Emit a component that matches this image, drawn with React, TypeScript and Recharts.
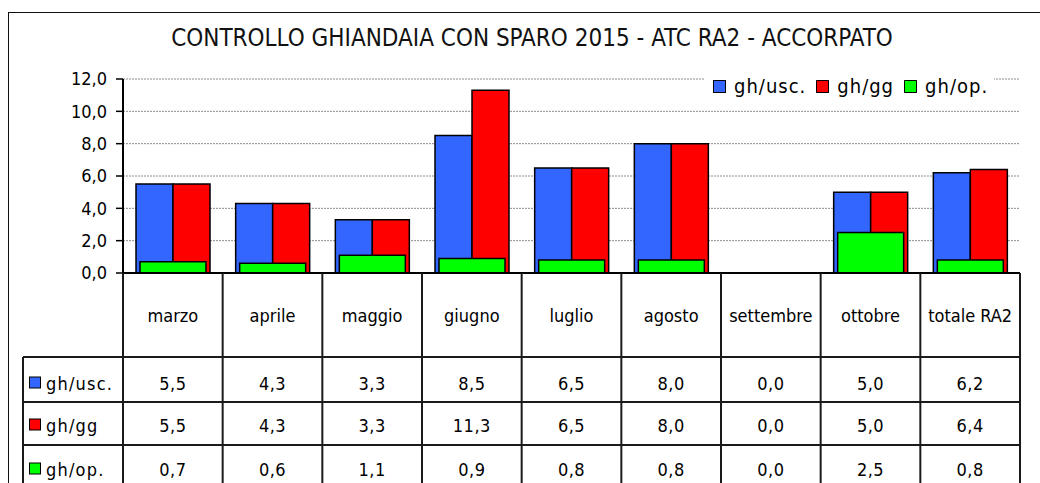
import React from 'react';
import { BarChart, Bar, XAxis, YAxis, CartesianGrid, Legend } from 'recharts';

const categories = ['marzo', 'aprile', 'maggio', 'giugno', 'luglio', 'agosto', 'settembre', 'ottobre', 'totale RA2'];
const ghUsc = [5.5, 4.3, 3.3, 8.5, 6.5, 8.0, 0.0, 5.0, 6.2];
const ghGg = [5.5, 4.3, 3.3, 11.3, 6.5, 8.0, 0.0, 5.0, 6.4];
const ghOp = [0.7, 0.6, 1.1, 0.9, 0.8, 0.8, 0.0, 2.5, 0.8];
const yTicks = [0, 2, 4, 6, 8, 10, 12];

const seriesDefs = [
  { key: 'usc', name: 'gh/usc.', color: '#3366FF', values: ghUsc },
  { key: 'gg', name: 'gh/gg', color: '#FF0000', values: ghGg },
  { key: 'op', name: 'gh/op.', color: '#00FF00', values: ghOp },
];

const data = categories.map((c, i) => ({ cat: c, usc: ghUsc[i], gg: ghGg[i], op: ghOp[i] }));

const W = 1040;
const H = 483;
const PLOT_L = 123;
const PLOT_R = 1020;
const PLOT_T = 79;
const PLOT_B = 273;
const BW = (PLOT_R - PLOT_L) / categories.length;
const FONT = "'DejaVu Sans Condensed', 'DejaVu Sans', sans-serif";
const LINE = '#1a1a1a';

const fmt = (v: number) => v.toFixed(1).replace('.', ',');

// row geometry (offsets from axis line)
const ROW_LINES = [84, 129, 172, 215];
const ROW_TEXT = [42, 110, 152, 196];

function TableTick(props: any) {
  const { x, y, payload, index } = props;
  const left = x - BW / 2;
  const right = x + BW / 2;
  const top = y;
  const els: any[] = [];
  els.push(<line key="vl" x1={left} x2={left} y1={top} y2={top + 260} stroke={LINE} strokeWidth={2} />);
  if (index === categories.length - 1) {
    els.push(<line key="vr" x1={right} x2={right} y1={top} y2={top + 260} stroke={LINE} strokeWidth={2} />);
  }
  ROW_LINES.forEach((ry, k) => {
    els.push(<line key={'h' + k} x1={left} x2={right} y1={top + ry} y2={top + ry} stroke={LINE} strokeWidth={2} />);
  });
  els.push(
    <text key="cat" x={x} y={top + ROW_TEXT[0]} textAnchor="middle" dominantBaseline="central" fontSize={18} fill="#000" fontFamily={FONT}>
      {payload.value}
    </text>
  );
  seriesDefs.forEach((s, k) => {
    els.push(
      <text key={'v' + k} x={x} y={top + ROW_TEXT[k + 1]} textAnchor="middle" dominantBaseline="central" fontSize={18} fill="#000" fontFamily={FONT} letterSpacing={0.5}>
        {fmt(s.values[index])}
      </text>
    );
  });
  if (index === 0) {
    const lx = 23;
    els.push(<line key="lv" x1={lx} x2={lx} y1={top + ROW_LINES[0]} y2={top + 260} stroke={LINE} strokeWidth={2} />);
    ROW_LINES.forEach((ry, k) => {
      els.push(<line key={'lh' + k} x1={lx} x2={left} y1={top + ry} y2={top + ry} stroke={LINE} strokeWidth={2} />);
    });
    seriesDefs.forEach((s, k) => {
      const cy = top + ROW_TEXT[k + 1];
      els.push(<rect key={'lk' + k} x={29.5} y={cy - 6} width={11} height={11} fill={s.color} stroke="#000" strokeWidth={1} />);
      els.push(
        <text key={'lt' + k} x={46} y={cy} dominantBaseline="central" fontSize={18} fill="#000" fontFamily={FONT} letterSpacing={1.2}>
          {s.name}
        </text>
      );
    });
  }
  return <g>{els}</g>;
}

function LegendContent(props: any) {
  const payload = (props.payload || []) as any[];
  const order = seriesDefs.map((s) => s.name);
  const items = order
    .map((n) => payload.find((p) => p.value === n))
    .filter(Boolean);
  return (
    <div style={{ background: '#fff', display: 'flex', alignItems: 'center', width: 290, height: 22, paddingLeft: 9, boxSizing: 'border-box', fontFamily: FONT, fontSize: 20, letterSpacing: 1, color: '#000' }}>
      {items.map((p: any, i: number) => (
        <div key={i} style={{ display: 'flex', alignItems: 'center', marginRight: 10 }}>
          <span style={{ display: 'inline-block', width: 11, height: 11, background: p.color, border: '1px solid #000', marginRight: 8 }} />
          <span>{p.value}</span>
        </div>
      ))}
    </div>
  );
}

export default function App() {
  return (
    <div style={{ position: 'relative', width: W, height: H, overflow: 'hidden', background: '#fff' }}>
      <style>{'body{margin:0;overflow:hidden;background:#fff}'}</style>
      <div style={{ position: 'absolute', left: 8, top: 12, width: 1200, height: 800, borderTop: '1.5px solid #111', borderLeft: '1.5px solid #111' }} />
      <div style={{ position: 'absolute', left: 0, top: 24, width: 1064, textAlign: 'center', fontFamily: FONT, fontSize: 24, color: '#111', lineHeight: '28px' }}>
        CONTROLLO GHIANDAIA CON SPARO 2015 - ATC RA2 - ACCORPATO
      </div>
      <div style={{ position: 'absolute', left: 0, top: 0 }}>
        <BarChart width={W} height={H} data={data} margin={{ top: PLOT_T, right: W - PLOT_R, bottom: 0, left: 0 }} barGap={0}>
          <CartesianGrid vertical={false} stroke="#8c8c8c" strokeDasharray="2 1" />
          <YAxis
            width={PLOT_L}
            domain={[0, 12]}
            ticks={yTicks}
            tickFormatter={fmt}
            axisLine={{ stroke: '#000', strokeWidth: 2 }}
            tickLine={{ stroke: '#000', strokeWidth: 1.5 }}
            tickSize={7}
            tickMargin={9}
            tick={{ fontSize: 18, fill: '#000', fontFamily: FONT }}
            interval={0}
          />
          <XAxis
            dataKey="cat"
            height={H - PLOT_B}
            axisLine={{ stroke: '#000', strokeWidth: 2 }}
            tickLine={false}
            tickSize={0}
            tickMargin={0}
            interval={0}
            tick={<TableTick />}
          />
          <XAxis xAxisId="g" dataKey="cat" hide />
          <Legend layout="horizontal" verticalAlign="middle" align="center" content={<LegendContent />} wrapperStyle={{ position: 'absolute', top: 75, left: 704, width: 290, height: 22 }} />
          <Bar dataKey="usc" name="gh/usc." fill="#3366FF" stroke="#000" strokeWidth={1.5} barSize={37} isAnimationActive={false} />
          <Bar dataKey="gg" name="gh/gg" fill="#FF0000" stroke="#000" strokeWidth={1.5} barSize={37} isAnimationActive={false} />
          <Bar dataKey="op" name="gh/op." xAxisId="g" fill="#00FF00" stroke="#000" strokeWidth={1.5} barSize={66} isAnimationActive={false} />
        </BarChart>
      </div>
    </div>
  );
}
